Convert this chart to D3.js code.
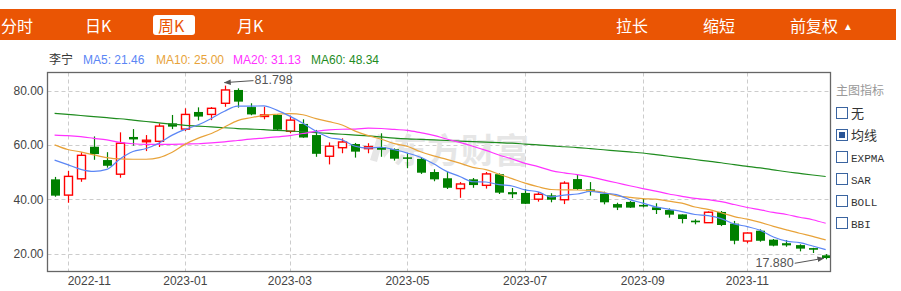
<!DOCTYPE html>
<html>
<head>
<meta charset="utf-8">
<script src="https://cdn.jsdelivr.net/npm/d3@7"></script>
<style>
body{margin:0;background:#fff}
text{font-family:"Liberation Sans","Noto Sans CJK SC",sans-serif}
</style>
</head>
<body>
<svg></svg>
<script>
// weekly candles, dated by last trading day of the week
var dates = ["2022-10-28","2022-11-04","2022-11-11","2022-11-18","2022-11-25","2022-12-02","2022-12-09","2022-12-16","2022-12-23","2022-12-30",
  "2023-01-06","2023-01-13","2023-01-20","2023-01-27","2023-02-03","2023-02-10","2023-02-17","2023-02-24","2023-03-03","2023-03-10",
  "2023-03-17","2023-03-24","2023-03-31","2023-04-06","2023-04-14","2023-04-21","2023-04-28","2023-05-05","2023-05-12","2023-05-19",
  "2023-05-26","2023-06-02","2023-06-09","2023-06-16","2023-06-23","2023-06-30","2023-07-07","2023-07-14","2023-07-21","2023-07-28",
  "2023-08-04","2023-08-11","2023-08-18","2023-08-25","2023-08-31","2023-09-07","2023-09-15","2023-09-22","2023-09-29","2023-10-06",
  "2023-10-13","2023-10-20","2023-10-27","2023-11-03","2023-11-10","2023-11-17","2023-11-24","2023-12-01","2023-12-08","2023-12-15"]
var opens = [47.3,41.5,47.5,59.3,54.4,49.2,62.9,61.2,61.3,67.9,65.8,72.1,71.2,75.3,80.2,73.9,70.6,71.0,65.0,67.7,
  63.6,55.8,58.95,60.3,58.6,59.1,58.4,55.4,54.8,50.0,47.7,43.9,47.3,45.1,49.2,42.6,42.3,40.0,41.4,39.8,
  47.4,43.6,42.0,38.2,39.0,37.9,37.0,36.0,34.4,32.1,31.35,35.3,31.0,24.6,28.4,25.1,23.8,23.1,22.0,19.35]
var highs = [48.2,50.4,57.3,63.1,57.3,64.6,65.8,63.6,67.9,71.0,73.45,73.8,73.9,81.798,80.8,75.3,74.0,71.2,70.7,69.4,
  65.5,60.9,62.4,60.7,60.6,64.25,58.7,56.9,55.5,51.0,50.0,46.3,47.8,50.0,49.5,44.1,43.75,42.6,42.2,46.6,
  49.2,46.3,42.75,38.7,39.3,40.3,38.5,36.6,34.4,32.6,35.5,35.65,32.0,27.8,28.9,25.35,24.95,23.4,22.1,19.8]
var lows = [40.9,38.7,46.4,54.5,51.6,47.9,59.7,57.7,59.2,65.8,65.1,69.0,69.1,74.0,73.7,70.9,69.4,65.1,64.25,62.6,
  55.6,52.8,56.9,55.3,56.9,55.6,54.2,51.4,49.3,46.6,43.75,40.5,44.2,43.9,41.9,40.4,38.2,39.1,38.85,38.2,
  43.4,41.3,38.1,36.0,36.8,37.0,34.55,33.2,31.1,30.75,31.3,30.1,23.4,23.8,24.35,22.65,22.5,20.8,20.2,17.88]
var closes = [41.3,48.4,56.15,56.6,52.3,60.6,62.0,61.7,66.9,66.7,71.2,70.4,73.45,80.2,75.9,71.2,71.0,65.6,69.1,62.7,
  56.7,59.5,61.05,57.5,59.3,58.2,54.9,55.0,49.75,47.3,44.2,45.6,45.2,49.3,42.4,41.8,38.3,41.8,39.8,45.9,
  43.75,42.9,38.85,36.9,36.9,37.3,36.0,34.3,32.7,31.5,35.2,30.5,24.7,27.55,24.7,22.9,23.0,21.8,21.4,18.35]

var ma5 = [54.4,52.7,51.0,50.2,50.95,54.81,57.53,58.64,60.7,63.58,65.7,67.38,69.73,72.39,74.23,74.23,74.35,72.78,70.56,67.92,
  65.02,62.72,61.81,59.49,58.81,59.11,58.19,56.98,55.43,53.03,50.23,48.37,46.41,46.32,45.34,44.86,43.4,42.72,40.82,41.52,
  41.91,42.83,42.24,41.66,39.86,38.57,37.19,36.28,35.44,34.36,33.94,32.84,30.92,29.89,28.53,26.07,24.57,23.99,22.76,21.46]
var ma10 = [60.0,58.3,57.4,56.3,55.3,54.8,54.7,54.7,55.3,57.27,60.26,62.46,64.19,66.55,68.91,69.97,70.87,71.26,71.48,71.08,
  69.63,68.54,67.3,65.03,63.37,62.07,60.46,59.4,57.46,55.92,54.67,53.28,51.7,50.88,49.19,47.55,45.89,44.57,43.57,43.43,
  43.39,43.12,42.48,41.24,40.69,40.24,40.01,39.26,38.55,37.11,36.26,35.02,33.6,32.67,31.45,30.01,28.71,27.46,26.33,25.00]
var ma20 = [63.6,63.4,63.0,62.4,61.8,60.9,60.4,60.2,60.2,60.2,60.3,60.4,60.7,61.1,61.6,62.1,62.5,62.9,63.4,64.17,
  64.94,65.5,65.74,65.79,66.14,66.02,65.66,65.33,64.47,63.5,62.15,60.91,59.5,57.95,56.28,54.81,53.17,51.98,50.52,49.68,
  49.03,48.2,47.09,46.06,44.94,43.89,42.95,41.91,41.06,40.27,39.82,39.07,38.04,36.95,36.07,35.12,34.36,33.36,32.44,31.13]
var ma60 = [71.6,71.2,70.8,70.4,70.0,69.6,69.1,68.6,68.1,67.6,67.2,66.9,66.6,66.3,66.0,65.8,65.6,65.3,65.1,64.8,
  64.5,64.2,63.9,63.6,63.3,62.9,62.5,62.2,62.0,61.8,61.6,61.4,61.2,61.0,60.8,60.6,60.3,60.0,59.6,59.3,
  59.0,58.6,58.2,57.8,57.4,57.0,56.4,55.8,55.2,54.6,54.0,53.4,52.7,52.1,51.5,50.8,50.1,49.5,48.9,48.34]

var tickDates = ["2022-11-04","2023-01-06","2023-03-03","2023-05-05","2023-07-07","2023-09-07","2023-11-03"]
var tickLabels = ["2022-11","2023-01","2023-03","2023-05","2023-07","2023-09","2023-11"]
var yTicks = [20,40,60,80]

var tabs = ["分时","日K","周K","月K"]
var tools = ["拉长","缩短","前复权"]
var indicators = ["无","均线","EXPMA","SAR","BOLL","BBI"]

var screen={width:901,height:291}
var plot={left:47.5,top:72.5,right:830.5,bottom:271.5}
var orange="#ea5504"
var red="#ff0000", green="#008000"
var maColors=["#5b86f5","#e8a33a","#ff33ff","#1f8c1f"]

var svg=d3.select("svg")
  .attr("width",screen.width)
  .attr("height",screen.height)

// top bar
svg.append("rect")
  .attr("x",0).attr("y",9).attr("width",896).attr("height",31)
  .attr("fill",orange)
var tabX=[1,85,158,237]
svg.append("rect")
  .attr("x",153).attr("y",15).attr("width",42).attr("height",20).attr("rx",3)
  .attr("fill","#fff")
svg.selectAll(".tab")
  .data(tabs)
  .enter()
  .append("text")
  .attr("x",function(d,i){return tabX[i]})
  .attr("y",31.5)
  .attr("fill",function(d,i){return i==2?orange:"#fff"})
  .style("font-size","16px")
  .style("font-family","'Noto Sans CJK SC',sans-serif")
  .text(function(d){return d})
var toolX=[616,703,790]
svg.selectAll(".tool")
  .data(tools)
  .enter()
  .append("text")
  .attr("x",function(d,i){return toolX[i]})
  .attr("y",31.5)
  .attr("fill","#fff")
  .style("font-size","16px")
  .style("font-family","'Noto Sans CJK SC',sans-serif")
  .text(function(d){return d})
svg.append("text")
  .attr("x",843).attr("y",30)
  .attr("fill","#fff")
  .style("font-size","10px")
  .text("▲")

// legend
var last=dates.length-1
var legend=[
  {t:"李宁",c:"#333",x:49},
  {t:"MA5: "+ma5[last].toFixed(2),c:maColors[0],x:83},
  {t:"MA10: "+ma10[last].toFixed(2),c:maColors[1],x:156},
  {t:"MA20: "+ma20[last].toFixed(2),c:maColors[2],x:233},
  {t:"MA60: "+ma60[last].toFixed(2),c:maColors[3],x:311}
]
svg.selectAll(".leg")
  .data(legend)
  .enter()
  .append("text")
  .attr("x",function(d){return d.x})
  .attr("y",64)
  .attr("fill",function(d){return d.c})
  .style("font-size","12px")
  .text(function(d){return d.t})

// scales
var xScale=d3.scalePoint()
  .domain(dates)
  .range([54.6,825.7])
var yScale=d3.scaleLinear()
  .domain([13.57,86.81])
  .range([271,72])

// grid
svg.selectAll(".hgrid")
  .data(yTicks)
  .enter()
  .append("line")
  .attr("x1",plot.left).attr("x2",plot.right)
  .attr("y1",function(d){return Math.round(yScale(d))+0.5})
  .attr("y2",function(d){return Math.round(yScale(d))+0.5})
  .attr("stroke","#ccc")
  .attr("stroke-dasharray","4,3")
svg.selectAll(".vgrid")
  .data(tickDates)
  .enter()
  .append("line")
  .attr("y1",plot.top).attr("y2",plot.bottom)
  .attr("x1",function(d){return Math.round(xScale(d))+0.5})
  .attr("x2",function(d){return Math.round(xScale(d))+0.5})
  .attr("stroke","#ccc")
  .attr("stroke-dasharray","4,3")

// watermark
svg.append("text")
  .attr("x",393).attr("y",163)
  .attr("fill","#e6e6e6")
  .style("font-size","34px")
  .style("font-weight","bold")
  .style("font-family","'Noto Sans CJK SC',sans-serif")
  .text("东方财富")
svg.append("path")
  .attr("d","M370,160 L378,134 L384,136 L377,162 Z M382,150 L392,140 L394,146 L384,158 Z")
  .attr("fill","#e6e6e6")

// y labels
svg.selectAll(".ylab")
  .data(yTicks)
  .enter()
  .append("text")
  .attr("x",43.5)
  .attr("y",function(d){return yScale(d)+4.5})
  .attr("text-anchor","end")
  .attr("fill","#444")
  .style("font-size","12px")
  .text(function(d){return d.toFixed(2)})

// x labels
svg.selectAll(".xlab")
  .data(tickDates)
  .enter()
  .append("text")
  .attr("x",function(d){return xScale(d)})
  .attr("y",285)
  .attr("text-anchor",function(d,i){return i==0?"start":"middle"})
  .attr("fill","#444")
  .style("font-size","12px")
  .text(function(d,i){return tickLabels[i]})

// MA lines
var maSeries=[ma60,ma20,ma10,ma5]
var maCols=[maColors[3],maColors[2],maColors[1],maColors[0]]
var line=d3.line()
  .x(function(d,i){return xScale(dates[i])})
  .y(function(d){return yScale(d)})
  .curve(d3.curveMonotoneX)

// candles
var candles=dates.map(function(d,i){
  return {date:d,o:opens[i],h:highs[i],l:lows[i],c:closes[i]}
})
var g=svg.append("g")
g.selectAll(".wick")
  .data(candles)
  .enter()
  .append("line")
  .attr("x1",function(d){return Math.round(xScale(d.date))+0.5})
  .attr("x2",function(d){return Math.round(xScale(d.date))+0.5})
  .attr("y1",function(d){return yScale(d.h)})
  .attr("y2",function(d){return yScale(d.l)})
  .attr("stroke",function(d){return d.c>=d.o?red:green})
  .attr("stroke-width",1.2)
g.selectAll(".body")
  .data(candles)
  .enter()
  .append("rect")
  .attr("x",function(d){return d.c>=d.o?Math.round(xScale(d.date))-3.5:Math.round(xScale(d.date))-4})
  .attr("width",function(d){return d.c>=d.o?8:9})
  .attr("y",function(d){return yScale(Math.max(d.o,d.c))})
  .attr("height",function(d){return Math.max(1.5,Math.abs(yScale(d.o)-yScale(d.c)))})
  .attr("fill",function(d){return d.c>=d.o?"#fff":green})
  .attr("stroke",function(d){return d.c>=d.o?red:"none"})
  .attr("stroke-width",1.4)

svg.selectAll(".ma")
  .data(maSeries)
  .enter()
  .append("path")
  .attr("d",function(d){return line(d)})
  .attr("fill","none")
  .attr("stroke",function(d,i){return maCols[i]})
  .attr("stroke-width",1.2)

// frame
svg.append("rect")
  .attr("x",plot.left).attr("y",plot.top)
  .attr("width",plot.right-plot.left).attr("height",plot.bottom-plot.top)
  .attr("fill","none")
  .attr("stroke","#666")
  .attr("stroke-width",1.3)

// high / low marks
svg.append("defs").append("marker")
  .attr("id","arr")
  .attr("viewBox","0 0 10 10")
  .attr("refX",9).attr("refY",5)
  .attr("markerWidth",7).attr("markerHeight",7)
  .attr("orient","auto-start-reverse")
  .append("path")
  .attr("d","M0,1 L10,5 L0,9 Z")
  .attr("fill","#555")
var hiIdx=d3.maxIndex(highs)
var loIdx=d3.minIndex(lows)
var hx=xScale(dates[hiIdx]), hy=yScale(highs[hiIdx])
svg.append("line")
  .attr("x1",hx+29).attr("y1",hy-5)
  .attr("x2",hx).attr("y2",hy-3)
  .attr("stroke","#555").attr("stroke-width",1)
  .attr("marker-end","url(#arr)")
svg.append("text")
  .attr("x",hx+30).attr("y",hy-2)
  .attr("fill","#555")
  .style("font-size","12.5px")
  .text(highs[hiIdx].toFixed(3))
var lx=xScale(dates[loIdx]), ly=yScale(lows[loIdx])
svg.append("line")
  .attr("x1",lx-31).attr("y1",ly+4)
  .attr("x2",lx-2).attr("y2",ly-1)
  .attr("stroke","#555").attr("stroke-width",1)
  .attr("marker-end","url(#arr)")
svg.append("text")
  .attr("x",lx-32).attr("y",ly+8)
  .attr("text-anchor","end")
  .attr("fill","#555")
  .style("font-size","12.5px")
  .text(lows[loIdx].toFixed(3))

// indicator panel
svg.append("text")
  .attr("x",836).attr("y",95)
  .attr("fill","#999")
  .style("font-size","12px")
  .style("font-family","'Noto Sans CJK SC',sans-serif")
  .text("主图指标")
var ind=svg.selectAll(".ind")
  .data(indicators)
  .enter()
  .append("g")
  .attr("transform",function(d,i){return "translate(836,"+(107+i*22)+")"})
ind.append("rect")
  .attr("x",0.5).attr("y",0.5).attr("width",11).attr("height",11)
  .attr("fill","#fff").attr("stroke","#3a64a0")
ind.filter(function(d,i){return i==1})
  .append("rect")
  .attr("x",3).attr("y",3).attr("width",6).attr("height",6)
  .attr("fill","#2a5597")
ind.append("text")
  .attr("x",15).attr("y",10.5)
  .attr("fill","#333")
  .style("font-size",function(d,i){return i<2?"13px":"11px"})
  .style("font-family",function(d,i){return i<2?"'Noto Sans CJK SC',sans-serif":"'Liberation Mono',monospace"})
  .text(function(d){return d})
</script>
</body>
</html>
